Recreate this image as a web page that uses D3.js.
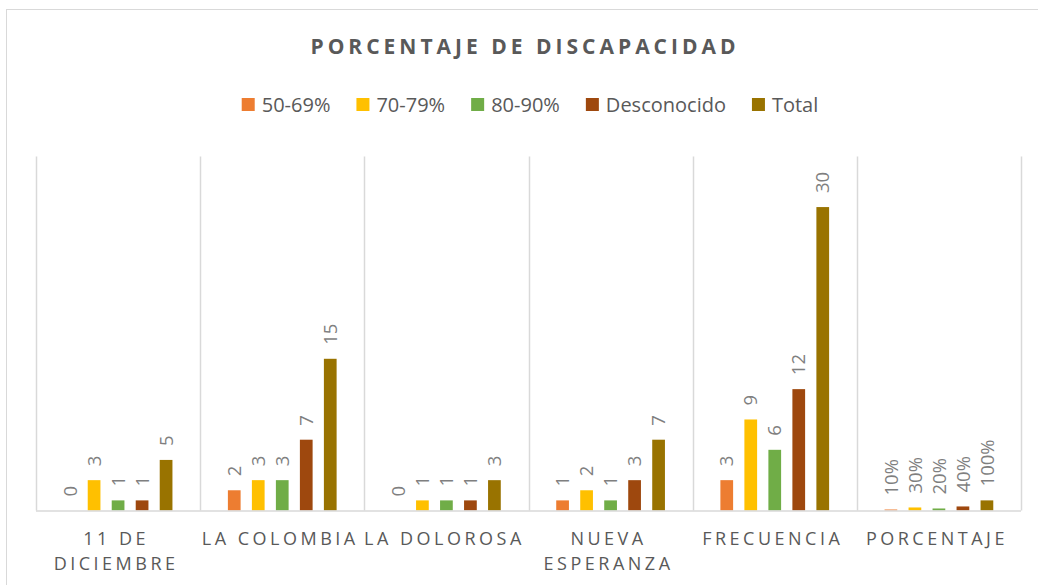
<!DOCTYPE html>
<html>
<head>
<meta charset="utf-8">
<script src="https://cdn.jsdelivr.net/npm/d3@7"></script>
<style>
  body { margin: 0; background: #fff; }
  svg { display: block; font-family: "Open Sans", sans-serif; }
</style>
</head>
<body>
<div id="chart"></div>
<script>
// categories and series
var categories = ["11 DE DICIEMBRE", "LA COLOMBIA", "LA DOLOROSA", "NUEVA ESPERANZA", "FRECUENCIA", "PORCENTAJE"];
var seriesNames = ["50-69%", "70-79%", "80-90%", "Desconocido", "Total"];
var seriesColors = ["#ED7D31", "#FFC000", "#70AD47", "#9E480E", "#997300"];

var v50_69 = [0, 2, 0, 1, 3, 0.1];
var v70_79 = [3, 3, 1, 2, 9, 0.3];
var v80_90 = [1, 3, 1, 1, 6, 0.2];
var vDesconocido = [1, 7, 1, 3, 12, 0.4];
var vTotal = [5, 15, 3, 7, 30, 1.0];
var seriesValues = [v50_69, v70_79, v80_90, vDesconocido, vTotal];

var width = 1038, height = 585;
var margin = {left: 36, right: 17, top: 156.5, bottom: 74.5};

var svg = d3.select("#chart").append("svg")
    .attr("width", width)
    .attr("height", height);

// chart border
svg.append("rect")
    .attr("x", 6.5).attr("y", 9.5)
    .attr("width", 1050).attr("height", 600)
    .style("fill", "#fff")
    .style("stroke", "#d9d9d9");

// title
svg.append("text")
    .attr("x", 525)
    .attr("y", 54)
    .attr("text-anchor", "middle")
    .style("font-size", "21px")
    .style("font-weight", "bold")
    .style("letter-spacing", "4px")
    .style("fill", "#595959")
    .text("PORCENTAJE DE DISCAPACIDAD");

var x0 = d3.scaleBand()
    .domain(categories)
    .range([margin.left, width - margin.right]);

var x1 = d3.scaleBand()
    .domain(seriesNames)
    .range([0, x0.bandwidth()])
    .paddingInner(0.47)
    .paddingOuter(1.155);

var y = d3.scaleLinear()
    .domain([0, 35])
    .range([height - margin.bottom, margin.top]);

// vertical dividers between categories
var edges = categories.map(function(c) { return x0(c); });
edges.push(x0.range()[1]);
svg.selectAll(".divider")
    .data(edges)
    .enter().append("line")
    .attr("x1", function(d) { return Math.round(d) + 0.5; })
    .attr("x2", function(d) { return Math.round(d) + 0.5; })
    .attr("y1", y.range()[1])
    .attr("y2", y(0))
    .style("stroke", "#d9d9d9")
    .style("stroke-width", 1.5);

// bars
var rows = [];
categories.forEach(function(c, i) {
    seriesNames.forEach(function(s, j) {
        rows.push({cat: c, series: s, color: seriesColors[j], value: seriesValues[j][i]});
    });
});

svg.selectAll(".bar")
    .data(rows)
    .enter().append("rect")
    .attr("x", function(d) { return x0(d.cat) + x1(d.series); })
    .attr("y", function(d) { return y(d.value); })
    .attr("width", x1.bandwidth())
    .attr("height", function(d) { return y(0) - y(d.value); })
    .style("fill", function(d) { return d.color; });

// baseline
svg.append("line")
    .attr("x1", x0.range()[0])
    .attr("x2", x0.range()[1])
    .attr("y1", y(0) + 0.5)
    .attr("y2", y(0) + 0.5)
    .style("stroke", "#d9d9d9")
    .style("stroke-width", 1.5);

// data labels, rotated
var pct = d3.format(".0%");
svg.selectAll(".label")
    .data(rows)
    .enter().append("text")
    .attr("transform", function(d) {
        var cx = x0(d.cat) + x1(d.series) + x1.bandwidth() / 2;
        return "translate(" + cx + "," + (y(d.value) - 14) + ") rotate(-90)";
    })
    .attr("dy", "0.36em")
    .attr("text-anchor", "start")
    .style("font-size", "18.5px")
    .style("fill", "#7f7f7f")
    .text(function(d) { return d.cat === "PORCENTAJE" ? pct(d.value) : d.value; });

// category labels, wrapped to band width
svg.selectAll(".cat")
    .data(categories)
    .enter().append("text")
    .attr("x", function(d) { return x0(d) + x0.bandwidth() / 2 - 2; })
    .attr("y", 545)
    .attr("text-anchor", "middle")
    .style("font-size", "18px")
    .style("letter-spacing", "3.5px")
    .style("fill", "#595959")
    .each(function(d) {
        var el = d3.select(this);
        var words = d.split(" ");
        var lines = [];
        var line = [];
        var tmp = el.append("tspan");
        words.forEach(function(w) {
            var test = line.concat([w]).join(" ");
            tmp.text(test);
            if (line.length && tmp.node().getComputedTextLength() > x0.bandwidth()) {
                lines.push(line.join(" "));
                line = [w];
            } else {
                line.push(w);
            }
        });
        lines.push(line.join(" "));
        tmp.remove();
        lines.forEach(function(l, k) {
            el.append("tspan")
                .attr("x", x0(d) + x0.bandwidth() / 2 - 2)
                .attr("dy", k === 0 ? 0 : 25)
                .text(l);
        });
    });

// legend
var legend = svg.append("g");
var lx = 0;
seriesNames.forEach(function(s, j) {
    var g = legend.append("g").attr("transform", "translate(" + lx + ",0)");
    g.append("rect")
        .attr("x", 0).attr("y", 98)
        .attr("width", 13).attr("height", 13)
        .style("fill", seriesColors[j]);
    var t = g.append("text")
        .attr("x", 20)
        .attr("y", 111.5)
        .style("font-size", "20px")
        .style("fill", "#595959")
        .text(s);
    lx += 20 + t.node().getComputedTextLength() + 26;
});
var legendWidth = lx - 26;
legend.attr("transform", "translate(" + (530 - legendWidth / 2) + ",0)");
</script>
</body>
</html>
